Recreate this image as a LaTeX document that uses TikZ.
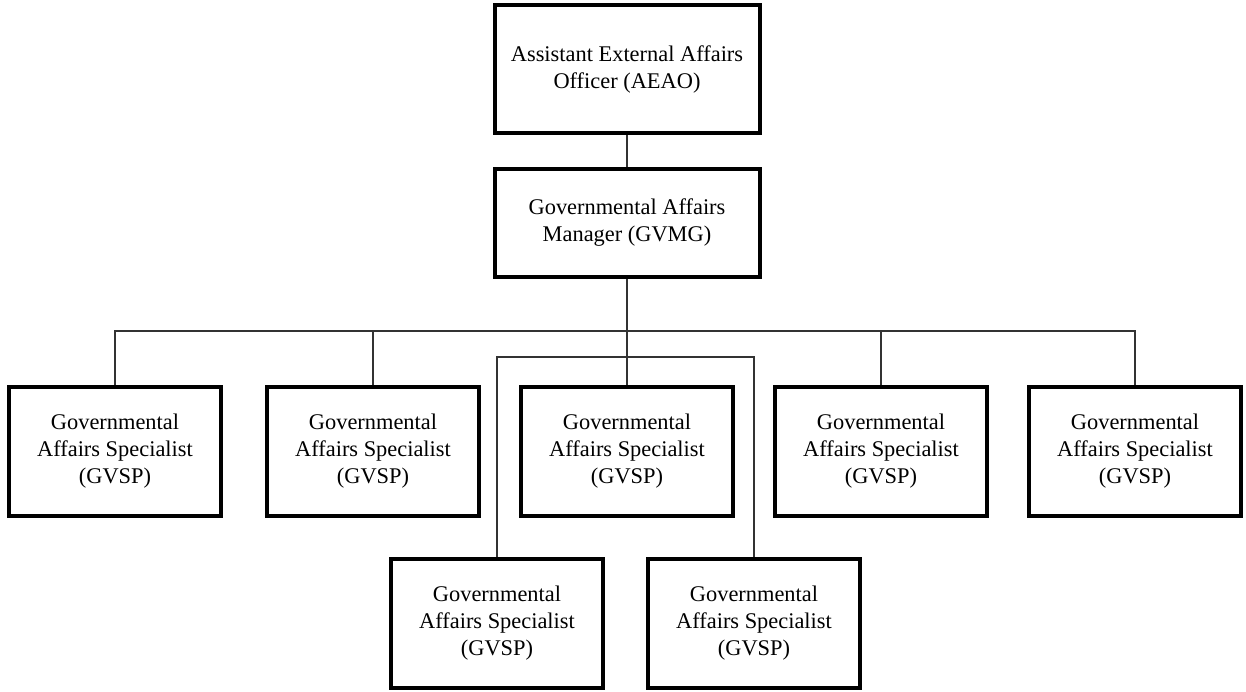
\documentclass[tikz,border=0pt]{standalone}
\usepackage{fontspec}
\setmainfont{Liberation Serif}
\usetikzlibrary{positioning}

\tikzset{
    post/.style={draw, line width=2pt, align=center, inner sep=0pt,
        font=\fontsize{11.2}{13.5}\selectfont,
        minimum width=106pt, minimum height=64.5pt},
    topbox/.style={post, minimum width=132.5pt, minimum height=64pt},
    link/.style={line width=0.7pt, draw=black!80}
}

\begin{document}
\begin{tikzpicture}[x=0.5pt, y=-0.5pt]
    \useasboundingbox (0,0) rectangle (1246,691);
    \node[topbox](AEAO) at (627,69) {Assistant External Affairs\\Officer (AEAO)};
    \node[topbox, minimum height=54pt](GVMG) at (627,223) {Governmental Affairs\\Manager (GVMG)};
    \draw[link] (AEAO) -- (GVMG);
    \node[post](S_1) at (115,451.5) {Governmental\\Affairs Specialist\\(GVSP)};
    \node[post](S_2) at (373,451.5) {Governmental\\Affairs Specialist\\(GVSP)};
    \node[post](S_3) at (627,451.5) {Governmental\\Affairs Specialist\\(GVSP)};
    \node[post](S_4) at (881,451.5) {Governmental\\Affairs Specialist\\(GVSP)};
    \node[post](S_5) at (1135,451.5) {Governmental\\Affairs Specialist\\(GVSP)};
    \node[post](S_6) at (497,623.5) {Governmental\\Affairs Specialist\\(GVSP)};
    \node[post](S_7) at (754,623.5) {Governmental\\Affairs Specialist\\(GVSP)};
    \coordinate(bus_1) at (627,331);
    \coordinate(bus_2) at (627,357);
    \draw[link] (GVMG) -- (S_3);
    \draw[link] (S_1.north) |- (bus_1);
    \draw[link] (S_2.north) |- (bus_1);
    \draw[link] (S_4.north) |- (bus_1);
    \draw[link] (S_5.north) |- (bus_1);
    \draw[link] (S_6.north) |- (bus_2);
    \draw[link] (S_7.north) |- (bus_2);
\end{tikzpicture}
\end{document}
